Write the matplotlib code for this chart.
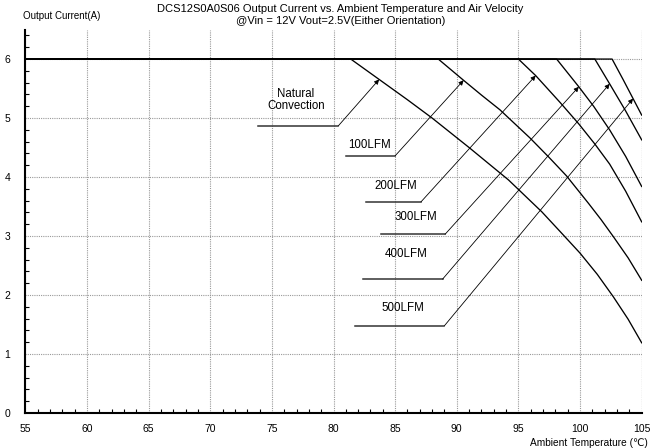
import matplotlib
matplotlib.use("Agg")
import matplotlib.pyplot as plt
import numpy as np

plt.rcParams['font.family'] = ['Liberation Sans', 'DejaVu Sans']

# derating curves (temperature in C, current in A)
nat_t = [55, 81.4, 83.8, 86.0, 88.0, 91.0, 94.2, 96.9, 98.5, 100.0, 101.4, 102.7, 103.9, 105]
nat_i = [6, 6, 5.64, 5.31, 5.0, 4.5, 3.95, 3.41, 3.05, 2.71, 2.35, 1.97, 1.59, 1.19]
lfm100_t = [55, 88.5, 90.55, 92.0, 93.5, 95.95, 97.5, 98.9, 100.7, 101.7, 102.7, 103.9, 105]
lfm100_i = [6, 6, 5.64, 5.39, 5.14, 4.66, 4.33, 4.02, 3.55, 3.28, 2.99, 2.63, 2.25]
lfm200_t = [55, 95.0, 96.4, 98.4, 99.9, 101.2, 102.4, 103.7, 105]
lfm200_i = [6, 6, 5.72, 5.26, 4.90, 4.56, 4.22, 3.76, 3.24]
lfm300_t = [55, 98.1, 99.9, 101.1, 102.4, 103.7, 105]
lfm300_i = [6, 6, 5.53, 5.20, 4.80, 4.35, 3.84]
lfm400_t = [55, 101.2, 102.4, 103.7, 105]
lfm400_i = [6, 6, 5.58, 5.12, 4.63]
lfm500_t = [55, 102.6, 103.5, 104.3, 105]
lfm500_i = [6, 6, 5.65, 5.33, 5.05]

labels = ["Natural\nConvection", "100LFM", "200LFM", "300LFM", "400LFM", "500LFM"]
curves = [(nat_t, nat_i), (lfm100_t, lfm100_i), (lfm200_t, lfm200_i),
          (lfm300_t, lfm300_i), (lfm400_t, lfm400_i), (lfm500_t, lfm500_i)]

# label placement: text centre, leader base (x0, x1, y), arrow temperature
text_pos = [(76.96, 5.31), (82.9, 4.55), (85.06, 3.84), (86.7, 3.32), (85.93, 2.69), (85.6, 1.78)]
base = [(73.9, 80.4, 4.87), (81.0, 85.0, 4.36), (82.6, 87.1, 3.58),
        (83.85, 89.05, 3.03), (82.4, 88.85, 2.27), (81.74, 89.0, 1.48)]
arrow_t = [83.7, 90.55, 96.4, 99.9, 102.4, 104.3]

fig = plt.figure(figsize=(6.51, 4.48), dpi=100)
ax = fig.add_axes([0.0389, 0.0781, 0.9468, 0.8559])

for t, i in curves:
    ax.plot(t, i, color="black", lw=0.95, zorder=3)

for lab, (tx, ty), (x0, x1, y), at, (t, i) in zip(labels, text_pos, base, arrow_t, curves):
    ax.text(tx, ty, lab, ha="center", va="center", fontsize=8.3, linespacing=1.05)
    ax.plot([x0, x1], [y, y], color="#333333", lw=1.1, zorder=3)
    ay = np.interp(at, t, i)
    ax.annotate("", xy=(at, ay), xytext=(x1, y),
                arrowprops=dict(arrowstyle="-|>", color="black", lw=0.6,
                                mutation_scale=7, shrinkA=0, shrinkB=0), zorder=4)

ax.set_xlim(55, 105)
ax.set_ylim(0, 6.5)
ax.set_xticks(np.arange(55, 106, 5))
ax.set_yticks(np.arange(0, 7, 1))
ax.set_xticks(np.arange(55, 106, 1), minor=True)
ax.set_yticks(np.arange(0, 6.5, 0.2), minor=True)
ax.tick_params(which="both", direction="in", labelsize=7.5, length=3, width=0.8)
ax.tick_params(which="major", length=0)
ax.tick_params(axis="x", pad=8)
ax.tick_params(axis="y", pad=11)
for s in ["top", "right"]:
    ax.spines[s].set_visible(False)
for s in ["left", "bottom"]:
    ax.spines[s].set_linewidth(1.5)

ax.grid(True, which="major", color="#999999", linestyle=(0, (1, 1)), lw=0.8)
ax.axvline(105, color="#999999", linestyle=(0, (1, 1)), lw=0.8)

fig.text(0.523, 0.981, "DCS12S0A0S06 Output Current vs. Ambient Temperature and Air Velocity",
         ha="center", va="center", fontsize=8)
fig.text(0.523, 0.953, "@Vin = 12V Vout=2.5V(Either Orientation)",
         ha="center", va="center", fontsize=8)
fig.text(0.036, 0.965, "Output Current(A)", ha="left", va="center", fontsize=7)
fig.text(0.995, 0.012, "Ambient Temperature (\u2103)", ha="right", va="center", fontsize=7.3)

fig.savefig("out.png", dpi=100)
